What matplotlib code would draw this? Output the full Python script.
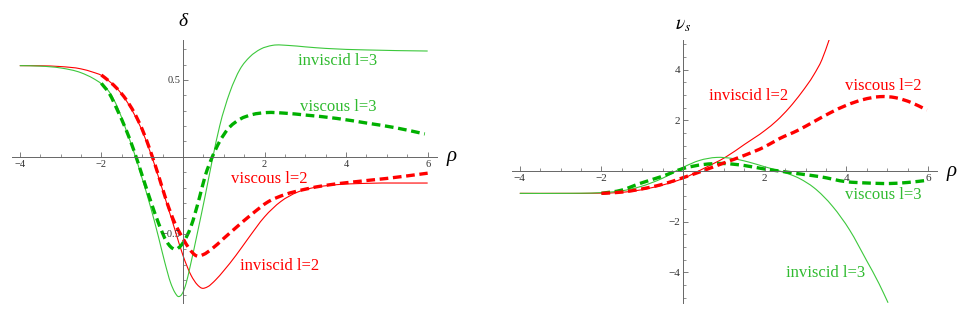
import matplotlib
matplotlib.use("Agg")
import numpy as np
import matplotlib.pyplot as plt
from matplotlib.ticker import MultipleLocator, FixedLocator
from matplotlib.path import Path
from matplotlib.patches import PathPatch

# ---------------- data: left panel (delta) ----------------
d_inv2_x = [-4, -3.5, -3, -2.5, -2.2, -2, -1.8, -1.6, -1.4, -1.2, -1.0, -0.8, -0.6, -0.4, -0.2, 0, 0.2,
            0.35, 0.46, 0.6, 0.8, 1.0, 1.3, 1.6, 2.0, 2.4, 2.8, 3.2, 3.8, 4.5, 6]
d_inv2_y = [0.593, 0.592, 0.587, 0.572, 0.55, 0.53, 0.49, 0.44, 0.37, 0.28, 0.17, 0.03, -0.13, -0.30,
            -0.47, -0.64, -0.77, -0.83, -0.853, -0.845, -0.80, -0.74, -0.64, -0.53, -0.39, -0.29, -0.23,
            -0.20, -0.18, -0.172, -0.17]

d_vis2_x = [-2, -1.8, -1.6, -1.4, -1.2, -1.0, -0.8, -0.6, -0.4, -0.2, 0, 0.15, 0.33, 0.5, 0.7, 1.0,
            1.3, 1.7, 2.1, 2.5, 3.0, 3.5, 4.0, 5.0, 6.0]
d_vis2_y = [0.532, 0.49, 0.44, 0.375, 0.29, 0.18, 0.04, -0.12, -0.29, -0.43, -0.53, -0.595, -0.643,
            -0.635, -0.60, -0.53, -0.46, -0.37, -0.29, -0.245, -0.21, -0.185, -0.168, -0.14, -0.106]

d_inv3_x = [-4, -3.5, -3, -2.5, -2.2, -2, -1.8, -1.6, -1.4, -1.2, -1.0, -0.8, -0.6, -0.45, -0.3, -0.2,
            -0.12, -0.02, 0.08, 0.17, 0.35, 0.54, 0.72, 0.9, 1.15, 1.4, 1.64, 1.9, 2.2, 2.6, 3.0, 3.5,
            4.5, 6]
d_inv3_y = [0.593, 0.59, 0.578, 0.547, 0.51, 0.475, 0.42, 0.32, 0.18, 0.03, -0.14, -0.32, -0.52,
            -0.68, -0.82, -0.88, -0.907, -0.89, -0.82, -0.72, -0.50, -0.26, -0.02, 0.2, 0.42, 0.57,
            0.65, 0.70, 0.725, 0.724, 0.715, 0.705, 0.695, 0.688]

d_vis3_x = [-2, -1.8, -1.6, -1.4, -1.2, -1.0, -0.8, -0.6, -0.4, -0.2, 0.0, 0.2, 0.4, 0.55, 0.72, 0.9,
            1.1, 1.4, 1.7, 2.05, 2.5, 3.0, 3.77, 4.5, 5.2, 5.93]
d_vis3_y = [0.478, 0.41, 0.30, 0.18, 0.04, -0.12, -0.28, -0.43, -0.55, -0.60, -0.56, -0.45, -0.27,
            -0.12, 0.0, 0.1, 0.18, 0.245, 0.275, 0.288, 0.284, 0.272, 0.25, 0.22, 0.19, 0.149]

# ---------------- data: right panel (nu_s) ----------------
n_inv2_x = [-4, -3, -2, -1.5, -1.06, -0.5, 0, 0.5, 1.06, 1.5, 2.0, 2.3, 2.6, 2.9, 3.2, 3.4, 3.58]
n_inv2_y = [-0.88, -0.88, -0.87, -0.84, -0.75, -0.55, -0.29, 0.1, 0.57, 1.05, 1.6, 2.0, 2.5, 3.1,
            3.8, 4.4, 5.2]

n_vis2_x = [-2, -1.5, -1.06, -0.5, 0, 0.5, 0.98, 1.5, 2.0, 2.37, 2.8, 3.2, 3.6, 4.0, 4.4, 4.82, 5.2,
            5.6, 5.97]
n_vis2_y = [-0.88, -0.83, -0.72, -0.52, -0.26, 0.02, 0.31, 0.62, 0.96, 1.29, 1.6, 1.95, 2.3, 2.6, 2.82,
            2.94, 2.9, 2.7, 2.41]

n_inv3_x = [-4, -3, -2, -1.5, -1.06, -0.5, 0, 0.4, 0.82, 1.2, 1.6, 2.0, 2.37, 2.86, 3.2, 3.67, 4.08,
            4.49, 4.8, 5.02]
n_inv3_y = [-0.88, -0.88, -0.85, -0.78, -0.62, -0.28, 0.15, 0.42, 0.54, 0.50, 0.36, 0.17, 0.0, -0.3,
            -0.65, -1.41, -2.33, -3.52, -4.45, -5.2]

n_vis3_x = [-2, -1.5, -1.06, -0.5, 0, 0.5, 0.98, 1.5, 2.0, 2.37, 2.8, 3.35, 4.0, 4.5, 5.07, 5.5, 6.0]
n_vis3_y = [-0.88, -0.75, -0.49, -0.2, 0.1, 0.26, 0.3, 0.22, 0.08, 0.0, -0.1, -0.22, -0.42, -0.47,
            -0.49, -0.45, -0.36]

left_xticks = [-4, -2, 2, 4, 6]
left_yticks = [-0.5, 0.5]
right_xticks = [-4, -2, 2, 4, 6]
right_yticks = [-4, -2, 2, 4]

RED = "#ff0000"
GTHIN = "#3cc83c"
GDASH = "#00b000"
GTEXT = "#30bb30"
AXC = "#666666"

fig = plt.figure(figsize=(9.69, 3.17), dpi=100)
axL = fig.add_axes([0.012, 0.044, 0.4386, 0.83])
axR = fig.add_axes([0.528, 0.045, 0.4386, 0.829])


def smooth_curve(ax, xs, ys, color, lw, dashes=None):
    """Draw a smooth cubic (Hermite/Bezier) curve through the read points."""
    x = np.asarray(xs, float)
    y = np.asarray(ys, float)
    m = np.gradient(y, x)
    verts = [(x[0], y[0])]
    codes = [Path.MOVETO]
    for i in range(len(x) - 1):
        h = x[i + 1] - x[i]
        verts += [(x[i] + h / 3, y[i] + m[i] * h / 3),
                  (x[i + 1] - h / 3, y[i + 1] - m[i + 1] * h / 3),
                  (x[i + 1], y[i + 1])]
        codes += [Path.CURVE4] * 3
    ls = "-" if dashes is None else (0, dashes)
    patch = PathPatch(Path(verts, codes), fill=False, edgecolor=color, lw=lw,
                      linestyle=ls, capstyle="butt", joinstyle="round")
    ax.add_patch(patch)


def style(ax, xticks, yticks, xminor, yminor, fs):
    for s in ["top", "right"]:
        ax.spines[s].set_visible(False)
    ax.spines["left"].set_position(("data", 0))
    ax.spines["bottom"].set_position(("data", 0))
    for s in ["left", "bottom"]:
        ax.spines[s].set_color(AXC)
        ax.spines[s].set_linewidth(0.7)
    ax.xaxis.set_major_locator(FixedLocator(xticks))
    ax.yaxis.set_major_locator(FixedLocator(yticks))
    ax.xaxis.set_minor_locator(MultipleLocator(xminor))
    ax.yaxis.set_minor_locator(MultipleLocator(yminor))
    ax.tick_params(which="major", direction="in", length=3.5, width=0.6, color=AXC,
                   labelsize=fs, labelcolor="#333333", pad=2)
    ax.tick_params(which="minor", direction="in", length=2, width=0.5, color=AXC)
    for lab in ax.get_xticklabels() + ax.get_yticklabels():
        lab.set_fontfamily("Liberation Serif")
    ax.patch.set_visible(False)


THIN = 0.8
THICK = 2.4
DASH = (2.6, 1.4)

# left
smooth_curve(axL, d_inv2_x, d_inv2_y, RED, THIN)
smooth_curve(axL, d_inv3_x, d_inv3_y, GTHIN, THIN)
smooth_curve(axL, d_vis3_x, d_vis3_y, GDASH, THICK, DASH)
smooth_curve(axL, d_vis2_x, d_vis2_y, RED, THICK, DASH)
axL.set_xlim(-4.2, 6.22)
axL.set_ylim(-0.95, 0.76)
style(axL, left_xticks, left_yticks, 0.5, 0.1, 7.5)

lf = dict(family="Liberation Serif", fontsize=12, ha="center", va="center")
axL.text(3.8, 0.623, "inviscid l=3", color=GTEXT, **lf)
axL.text(3.8, 0.327, "viscous l=3", color=GTEXT, **lf)
axL.text(2.12, -0.145, "viscous l=2", color=RED, **lf)
axL.text(2.37, -0.708, "inviscid l=2", color=RED, **lf)
axL.text(6.59, 0.0, "ρ", family="Liberation Serif", style="italic", fontsize=15,
         ha="center", va="center", clip_on=False)
axL.text(0.0, 0.88, "δ", family="Liberation Serif", style="italic", fontsize=14,
         ha="center", va="center", clip_on=False)

# right
smooth_curve(axR, n_inv2_x, n_inv2_y, RED, THIN)
smooth_curve(axR, n_inv3_x, n_inv3_y, GTHIN, THIN)
smooth_curve(axR, n_vis3_x, n_vis3_y, GDASH, THICK, DASH)
smooth_curve(axR, n_vis2_x, n_vis2_y, RED, THICK, DASH)
axR.set_xlim(-4.2, 6.21)
axR.set_ylim(-5.2, 5.18)
style(axR, right_xticks, right_yticks, 0.5, 0.5, 8)

axR.text(1.6, 2.98, "inviscid l=2", color=RED, **lf)
axR.text(4.9, 3.37, "viscous l=2", color=RED, **lf)
axR.text(4.9, -0.95, "viscous l=3", color=GTEXT, **lf)
axR.text(3.5, -4.02, "inviscid l=3", color=GTEXT, **lf)
axR.text(6.58, 0.0, "ρ", family="Liberation Serif", style="italic", fontsize=15,
         ha="center", va="center", clip_on=False)
axR.text(0.0, 5.8, r"$\nu_s$", fontsize=14, ha="center", va="center", clip_on=False,
         math_fontfamily="stix")

fig.savefig("out.png", dpi=100)
